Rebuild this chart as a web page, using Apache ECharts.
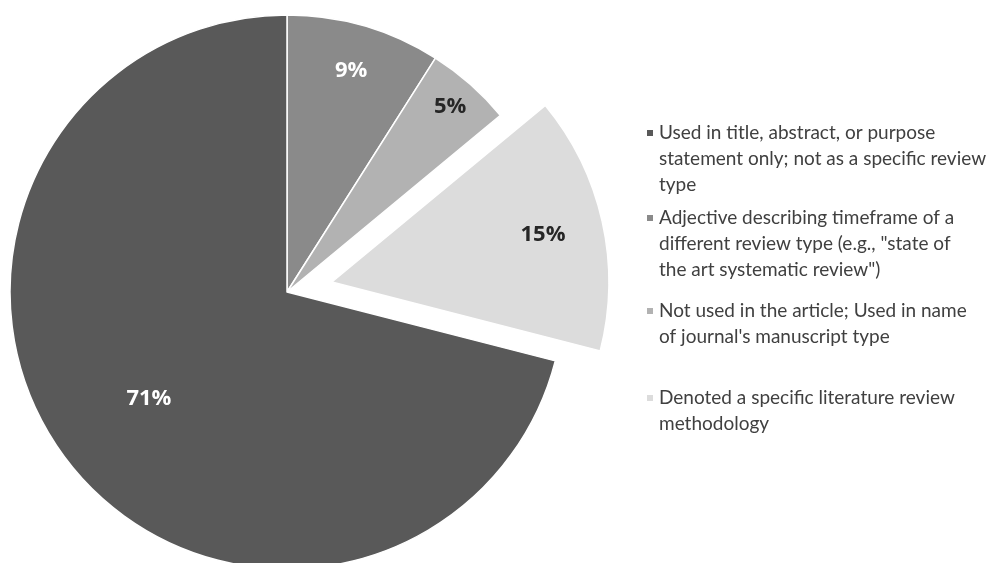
<!DOCTYPE html>
<html>
<head>
<meta charset="utf-8">
<script src="https://cdn.jsdelivr.net/npm/echarts@6/dist/echarts.min.js"></script>
<style>html,body{margin:0;padding:0;background:#fff}#c{width:988px;height:563px}</style>
</head>
<body>
<div id="c"></div>
<script>
const categories = [
  'Used in title, abstract, or purpose statement only; not as a specific review type',
  'Adjective describing timeframe of a different review type (e.g., "state of the art systematic review")',
  "Not used in the article; Used in name of journal's manuscript type",
  'Denoted a specific literature review methodology'
];
const legendLines = [
  ['Used in title, abstract, or purpose', 'statement only; not as a specific review', 'type'],
  ['Adjective describing timeframe of a', 'different review type (e.g., "state of', 'the art systematic review")'],
  ['Not used in the article; Used in name', "of journal's manuscript type"],
  ['Denoted a specific literature review', 'methodology']
];
const values = [71, 9, 5, 15];
const colors = ['#595959', '#8a8a8a', '#b2b2b2', '#dcdcdc'];
const labelColors = ['#ffffff', '#ffffff', '#262626', '#262626'];
const labelRadiusFactor = [0.62, 0.82, 0.88, 0.77];  // label distance from centre, fraction of radius
const pieOrder = [1, 2, 3, 0];   // clockwise from 12 o'clock
const explodedIndex = 3;

const chart = echarts.init(document.getElementById('c'));
const center = [287, 292];
const R = 277;
const lh = 26;
const legendFirstLine = [133, 218, 311, 398];

function mkData(labelFilter, hidden) {
  return pieOrder.map(i => ({
    name: categories[i],
    value: values[i],
    selected: i === explodedIndex,
    itemStyle: hidden ? { color: 'rgba(0,0,0,0)', borderWidth: 0 } : { color: colors[i] },
    label: {
      show: labelFilter(i),
      color: labelColors[i]
    }
  }));
}

const labelStyle = {
  show: true,
  position: 'inside',
  formatter: '{c}%',
  fontFamily: 'Open Sans',
  fontWeight: 'bold',
  fontSize: 22
};

const legends = categories.map((name, i) => {
  const n = legendLines[i].length;
  const pad = new Array(n - 1).fill(' ');
  return {
    data: [name],
    left: 645,
    top: legendFirstLine[i] - (2 * n - 1) * lh / 2,
    padding: 0,
    orient: 'vertical',
    icon: 'rect',
    itemWidth: 8,
    itemHeight: 8,
    selectedMode: false,
    formatter: () => pad.concat(legendLines[i]).join('\n'),
    textStyle: {
      fontFamily: 'Lato',
      fontSize: 19,
      color: '#404040',
      lineHeight: lh
    }
  };
});

const common = {
  type: 'pie',
  center: center,
  startAngle: 90,
  clockwise: true,
  selectedMode: 'single',
  selectedOffset: 46,
  avoidLabelOverlap: false,
  labelLine: { show: false },
  emphasis: { disabled: true }
};

const series = [
  Object.assign({}, common, {
    radius: [0, R],
    label: { show: false },
    itemStyle: { borderColor: '#ffffff', borderWidth: 1.5 },
    data: mkData(() => false, false)
  })
];
categories.forEach((_, k) => {
  series.push(Object.assign({}, common, {
    radius: [0, R * 2 * labelRadiusFactor[k]],
    silent: true,
    label: labelStyle,
    data: mkData(i => i === k, true)
  }));
});

chart.setOption({
  animation: false,
  legend: legends,
  series: series
});
</script>
</body>
</html>
